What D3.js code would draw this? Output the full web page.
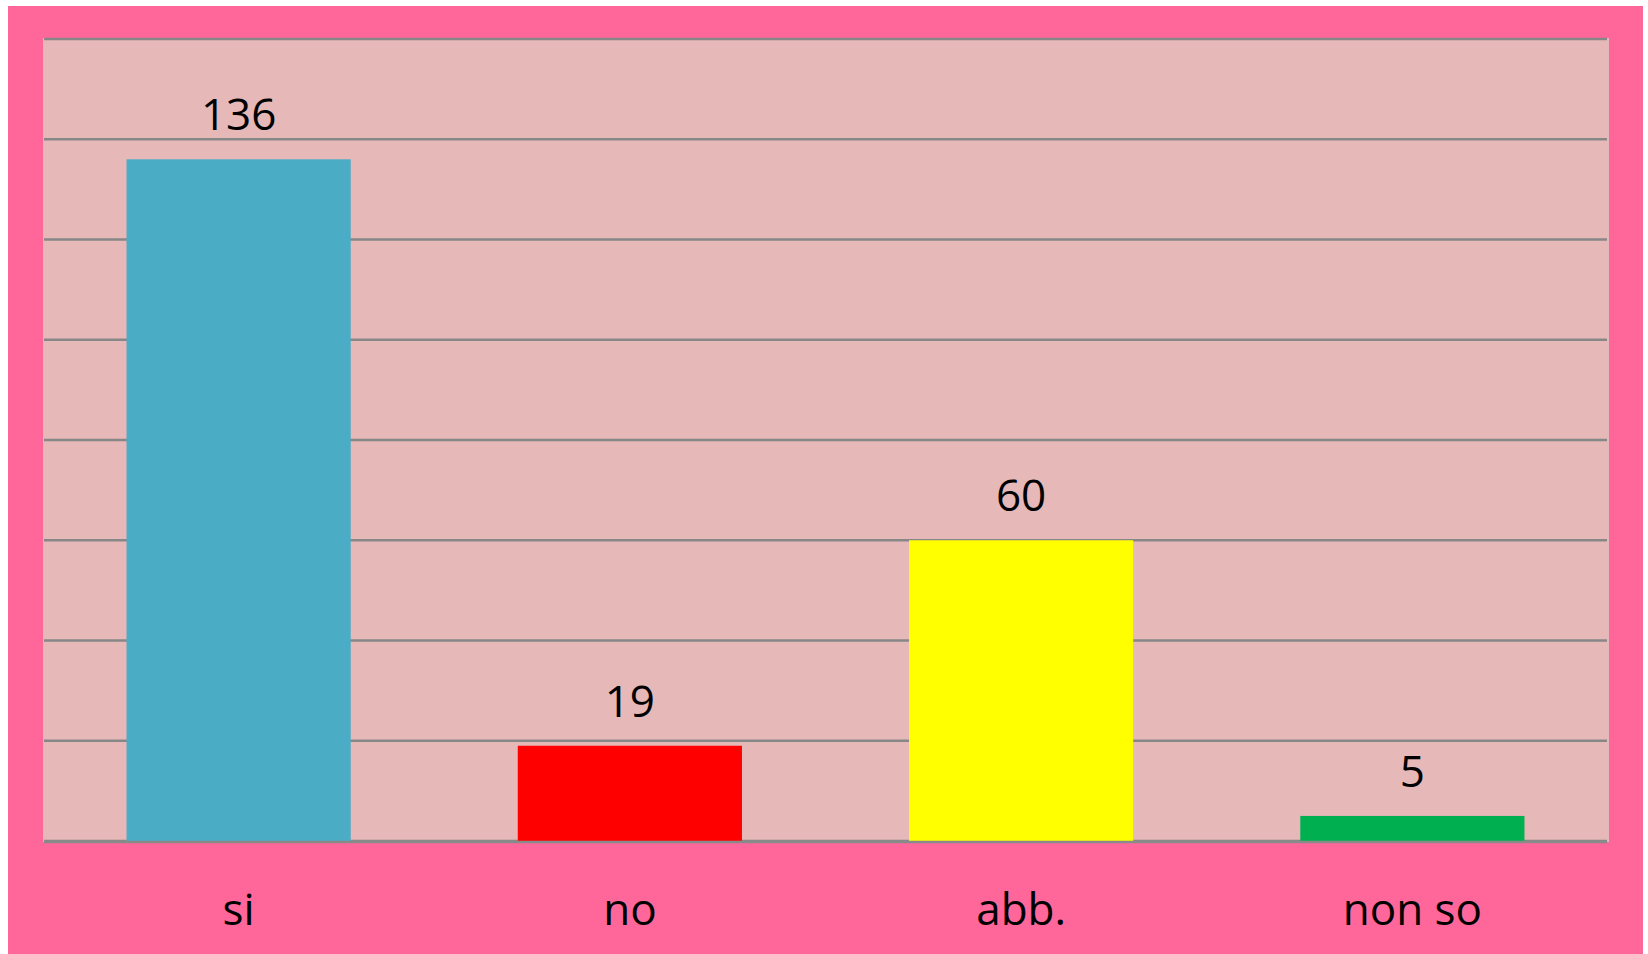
<!DOCTYPE html>
<html>
<head>
<meta charset="utf-8">
<script src="https://cdn.jsdelivr.net/npm/d3@7"></script>
<style>
html,body{margin:0;padding:0;background:#fff;}
svg{display:block;}
</style>
</head>
<body>
<svg id="chart" width="1648" height="954"></svg>
<script>
const categories = ["si", "no", "abb.", "non so"];
const values = [136, 19, 60, 5];
const barColors = ["#4BACC6", "#FF0000", "#FFFF00", "#00B050"];
const tickValues = [0, 20, 40, 60, 80, 100, 120, 140, 160];

const svg = d3.select("#chart");
const W = 1648, H = 954;
const plot = {left: 43, right: 1608, top: 39, bottom: 841};

// outer pink frame
svg.append("rect").attr("x", 8).attr("y", 6).attr("width", 1635).attr("height", 948).attr("fill", "#FF6699");
// plot background
svg.append("rect").attr("x", plot.left).attr("y", plot.top - 1).attr("width", plot.right - plot.left + 1).attr("height", plot.bottom - plot.top + 2).attr("fill", "#E6B8B7");

const x = d3.scaleBand().domain(categories).range([plot.left, plot.right]).paddingInner(0.427).paddingOuter(0.2135);
const y = d3.scaleLinear().domain([0, 160]).range([plot.bottom, plot.top]);

// gridlines
svg.append("g").selectAll("line").data(tickValues).join("line")
  .attr("x1", plot.left + 1).attr("x2", plot.right - 1)
  .attr("y1", d => y(d)).attr("y2", d => y(d))
  .attr("stroke", "#878787").attr("stroke-width", 2.5);

// bars
svg.append("g").selectAll("rect").data(values).join("rect")
  .attr("x", (d, i) => x(categories[i]))
  .attr("width", x.bandwidth())
  .attr("y", d => y(d))
  .attr("height", d => y(0) - y(d))
  .attr("fill", (d, i) => barColors[i]);

// baseline axis
svg.append("line").attr("x1", plot.left + 1).attr("x2", plot.right - 1)
  .attr("y1", y(0) + 1).attr("y2", y(0) + 1).attr("stroke", "#8a8a8a").attr("stroke-width", 2.5);

// value labels
svg.append("g").selectAll("text").data(values).join("text")
  .attr("x", (d, i) => x(categories[i]) + x.bandwidth() / 2)
  .attr("y", d => y(d) - 29)
  .attr("text-anchor", "middle")
  .attr("font-family", "'Open Sans', sans-serif")
  .attr("font-size", 44)
  .attr("fill", "#000")
  .text(d => d);

// category labels
const xAxis = d3.axisBottom(x).tickSize(0).tickPadding(0);
const gx = svg.append("g").attr("transform", `translate(0,${plot.bottom})`).call(xAxis);
gx.select(".domain").remove();
gx.selectAll("text")
  .attr("y", 84)
  .attr("dy", 0)
  .attr("font-family", "'Open Sans', sans-serif")
  .attr("font-size", 44)
  .attr("fill", "#000");
</script>
</body>
</html>
